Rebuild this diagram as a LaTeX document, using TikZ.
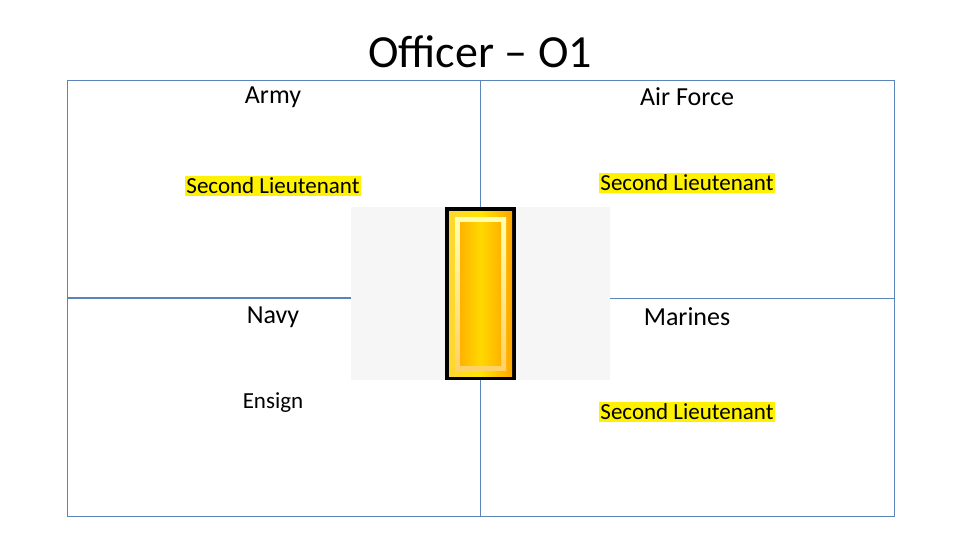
\documentclass[tikz,border=0pt]{standalone}
\usepackage{fontspec}
\setmainfont{Carlito}
\definecolor{qline}{HTML}{5B84B8}
\begin{document}
\begin{tikzpicture}[x=1pt,y=-1pt,
  quad/.style={draw=qline, line width=0.8pt},
  lbl/.style={font=\fontsize{26}{30}\selectfont},
  rank/.style={font=\fontsize{23}{27}\selectfont, fill=yellow, inner sep=1.5pt}]
\useasboundingbox (0,0) rectangle (960,540);
\node[font=\fontsize{46}{54}\selectfont] (title) at (480,52) {Officer – O1};
\draw[quad] (67,80) rectangle (480,297);
\draw[quad] (480,80) rectangle (894,298);
\draw[quad] (67,298) rectangle (480,516);
\draw[quad] (480,298) rectangle (894,516);
\node[lbl] (army) at (273,97) {Army};
\node[lbl] (af) at (687,97) {Air Force};
\node[lbl] (navy) at (273,317) {Navy};
\node[lbl] (mar) at (687,317) {Marines};
\node[rank] (r1) at (273,186) {Second Lieutenant};
\node[rank] (r2) at (687,183) {Second Lieutenant};
\node[rank] (r3) at (687,412) {Second Lieutenant};
\node[font=\fontsize{23}{27}\selectfont] (ens) at (273,403) {Ensign};
\fill[gray!7] (351,207) rectangle (610,380);
\fill[black] (445,207) rectangle (516,380);
\shade[left color=yellow!60!orange!80!white, right color=orange!70!yellow, middle color=yellow!80!orange] (449,211) rectangle (512,376);
\shade[top color=yellow!30!white, bottom color=yellow!40!orange!60!white] (455,217) rectangle (506,370);
\shade[left color=orange!60!yellow, right color=orange!60!yellow, middle color=yellow!70!orange] (460,222) rectangle (501,365);
\end{tikzpicture}
\end{document}
